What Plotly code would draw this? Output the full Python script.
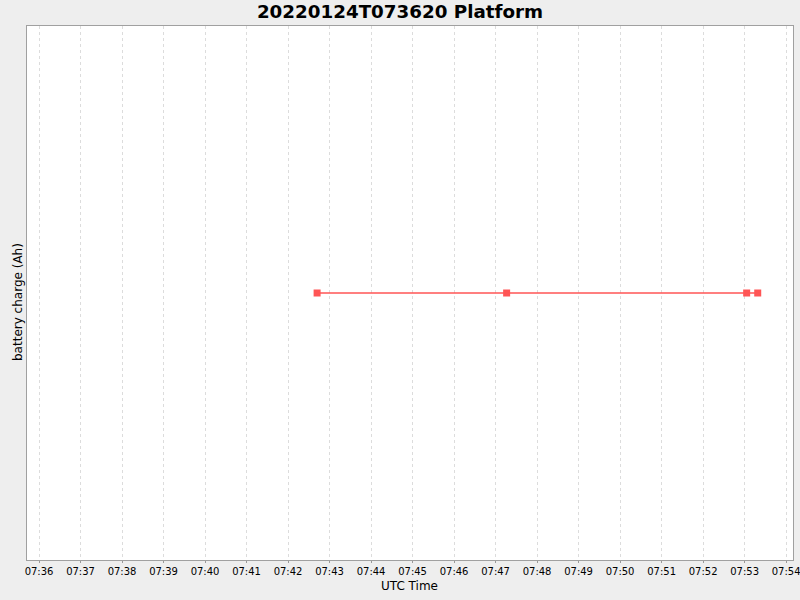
import plotly.graph_objects as go

# battery readings (UTC)
times = [
    "2022-01-24 07:42:42",
    "2022-01-24 07:47:16",
    "2022-01-24 07:53:03",
    "2022-01-24 07:53:19",
]
charge = [100.0, 100.0, 100.0, 100.0]

x_range = ["2022-01-24 07:35:42.6", "2022-01-24 07:54:10"]
y_range = [99.0, 101.0]

fig = go.Figure()
fig.add_trace(go.Scatter(
    x=times, y=charge,
    mode="lines+markers",
    line=dict(color="#ff5555", width=1.5),
    marker=dict(symbol="square", size=7, color="#ff5555"),
    showlegend=False,
))

fig.update_layout(
    width=800, height=600,
    paper_bgcolor="#eeeeee",
    plot_bgcolor="white",
    margin=dict(l=27, r=7, t=26, b=40, autoexpand=False),
    font=dict(family="DejaVu Sans", color="black"),
    title=dict(
        text="<b>20220124T073620 Platform</b>",
        x=0.5, xanchor="center",
        y=1 - 12 / 600, yref="container", yanchor="middle",
        font=dict(size=18.3, family="DejaVu Sans"),
    ),
    annotations=[
        dict(text="UTC Time", xref="paper", yref="paper",
             x=(409 - 27) / 766, y=-26 / 534, xanchor="center", yanchor="middle",
             showarrow=False, font=dict(size=12)),
        dict(text="battery charge (Ah)", xref="paper", yref="paper",
             x=(18 - 27) / 766, y=(560 - 302) / 534, xanchor="center", yanchor="middle",
             textangle=-90, showarrow=False, font=dict(size=12)),
    ],
)

fig.update_xaxes(
    range=x_range,
    dtick=60000, tick0="2022-01-24 07:36:00",
    tickformat="%H:%M",
    tickfont=dict(size=10),
    ticklabeloverflow="allow",
    ticks="outside", ticklen=2, tickcolor="#999999",
    showgrid=True, gridcolor="#dcdcdc", griddash="3px,3px", gridwidth=1,
    showline=True, linecolor="#a0a0a0", mirror=True,
    zeroline=False,
)
fig.update_yaxes(
    range=y_range,
    showticklabels=False, showgrid=False, zeroline=False,
    showline=True, linecolor="#a0a0a0", mirror=True,
)

# drop the default page margin so the figure sits at the window corner
fig.write_html(
    "out.html",
    config={"displayModeBar": False},
    post_script="document.body.style.margin='0';document.body.style.background='#eeeeee';",
)
